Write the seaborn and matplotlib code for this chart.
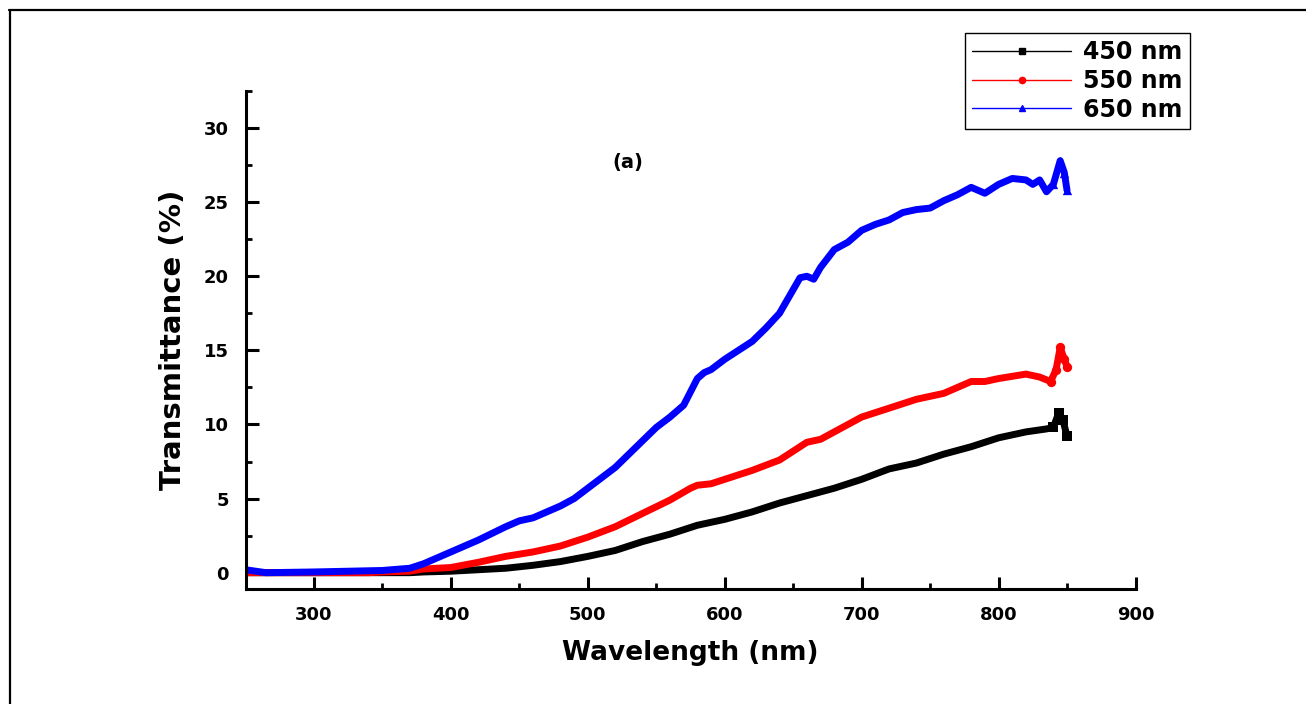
import matplotlib
matplotlib.use("Agg")
import matplotlib.pyplot as plt
from matplotlib.lines import Line2D
from matplotlib.ticker import MultipleLocator
import numpy as np
import pandas as pd
import seaborn as sns

# ---- data ----
wl_450 = [250, 300, 350, 370, 380, 400, 420, 440, 460, 480, 500, 520, 540, 560, 580, 600,
          620, 640, 660, 680, 700, 720, 740, 760, 780, 800, 820, 835, 840, 844, 847, 850]
t_450 = [0.0, 0.0, 0.0, 0.0, 0.05, 0.1, 0.2, 0.3, 0.5, 0.75, 1.1, 1.5, 2.1, 2.6, 3.2, 3.6,
         4.1, 4.7, 5.2, 5.7, 6.3, 7.0, 7.4, 8.0, 8.5, 9.1, 9.5, 9.7, 9.8, 10.8, 10.3, 9.2]

wl_550 = [250, 300, 340, 350, 370, 380, 400, 420, 440, 460, 480, 500, 520, 540, 560, 575,
          580, 590, 600, 620, 640, 650, 660, 670, 680, 700, 720, 740, 760, 780, 790, 800,
          820, 830, 838, 842, 845, 848, 850]
t_550 = [0.0, 0.0, 0.0, 0.05, 0.1, 0.25, 0.35, 0.7, 1.1, 1.4, 1.8, 2.4, 3.1, 4.0, 4.9, 5.7,
         5.9, 6.0, 6.3, 6.9, 7.6, 8.2, 8.8, 9.0, 9.5, 10.5, 11.1, 11.7, 12.1, 12.9, 12.9, 13.1,
         13.4, 13.2, 12.9, 13.7, 15.2, 14.4, 13.9]

wl_650 = [250, 265, 300, 350, 370, 380, 400, 420, 440, 450, 460, 470, 480, 490, 500, 520,
          530, 540, 550, 560, 570, 575, 580, 585, 590, 600, 620, 630, 640, 650, 655, 660,
          665, 670, 680, 690, 700, 710, 720, 730, 740, 750, 760, 770, 780, 790, 800, 810,
          820, 825, 830, 835, 840, 845, 848, 850]
t_650 = [0.2, 0.0, 0.05, 0.15, 0.3, 0.6, 1.4, 2.2, 3.1, 3.5, 3.7, 4.1, 4.5, 5.0, 5.7, 7.1,
         8.0, 8.9, 9.8, 10.5, 11.3, 12.2, 13.1, 13.5, 13.7, 14.4, 15.6, 16.5, 17.5, 19.1, 19.9, 20.0,
         19.8, 20.6, 21.8, 22.3, 23.1, 23.5, 23.8, 24.3, 24.5, 24.6, 25.1, 25.5, 26.0, 25.6, 26.2, 26.6,
         26.5, 26.2, 26.5, 25.7, 26.2, 27.8, 27.0, 25.8]

series_names = ["450 nm", "550 nm", "650 nm"]
series_colors = ["#000000", "#ff0000", "#0000ff"]
series_markers = ["s", "o", "^"]
x_ticks = [300, 400, 500, 600, 700, 800, 900]
y_ticks = [0, 5, 10, 15, 20, 25, 30]

sns.set_style("ticks")
plt.rcParams["font.family"] = ["DejaVu Sans"]
plt.rcParams["font.weight"] = "bold"
for key in ["text.color", "axes.labelcolor", "xtick.color", "ytick.color", "axes.edgecolor"]:
    plt.rcParams[key] = "black"

fig = plt.figure(figsize=(13.06, 7.04), dpi=100)
ax = fig.add_axes([245.5 / 1306, 1 - 589 / 704, (1135.5 - 245.5) / 1306, (589 - 91) / 704])

datasets = [(wl_450, t_450), (wl_550, t_550), (wl_650, t_650)]
for (wl, t), name, col, mk in zip(datasets, series_names, series_colors, series_markers):
    df = pd.DataFrame({"wl": wl, "t": t})
    sns.lineplot(data=df, x="wl", y="t", ax=ax, color=col, lw=5, sort=False,
                 estimator=None, legend=False, solid_capstyle="round")
    tail = df[df["wl"] >= 838]
    sns.scatterplot(data=tail, x="wl", y="t", ax=ax, color=col, marker=mk, s=45,
                    edgecolor=col, linewidth=0, legend=False, zorder=3)

ax.set_xlim(250, 900)
ax.set_ylim(-1.1, 32.5)
ax.set_xticks(x_ticks)
ax.set_yticks(y_ticks)
ax.xaxis.set_minor_locator(MultipleLocator(50))
ax.yaxis.set_minor_locator(MultipleLocator(2.5))
ax.tick_params(which="major", direction="in", length=9, width=2.2, labelsize=13, pad=12,
               colors="black")
ax.tick_params(which="minor", direction="in", length=4.5, width=2.0, colors="black")
for lab in ax.get_xticklabels() + ax.get_yticklabels():
    lab.set_fontweight("bold")
for s in ["top", "right"]:
    ax.spines[s].set_visible(False)
for s in ["left", "bottom"]:
    ax.spines[s].set_linewidth(2.2)
    ax.spines[s].set_color("black")

ax.set_xlabel("Wavelength (nm)", fontsize=19, fontweight="bold", labelpad=12, color="black")
ax.set_ylabel("Transmittance (%)", fontsize=21, fontweight="bold", labelpad=12, color="black")
ax.text(529, 27.7, "(a)", fontsize=14, fontweight="bold", ha="center", va="center",
        color="black")

handles = [Line2D([], [], color=c, lw=1, marker=m, markersize=4.5)
           for c, m in zip(series_colors, series_markers)]
leg = fig.legend(handles, series_names, loc="upper left",
                 bbox_to_anchor=(965 / 1306, 1 - 33 / 704), bbox_transform=fig.transFigure,
                 fancybox=False, frameon=True, edgecolor="black", framealpha=1,
                 prop={"weight": "bold", "size": 17}, handlelength=4.2,
                 labelspacing=0.2, borderpad=0.3, handletextpad=0.5, borderaxespad=0)
leg.get_frame().set_linewidth(1.0)
for txt in leg.get_texts():
    txt.set_color("black")

# figure border lines (top and left)
fig.add_artist(Line2D([9 / 1306, 1.0], [1 - 10 / 704, 1 - 10 / 704],
                      transform=fig.transFigure, color="black", lw=1.6))
fig.add_artist(Line2D([10 / 1306, 10 / 1306], [1 - 10 / 704, 0.0],
                      transform=fig.transFigure, color="black", lw=1.6))

fig.savefig("out.png", dpi=100)
